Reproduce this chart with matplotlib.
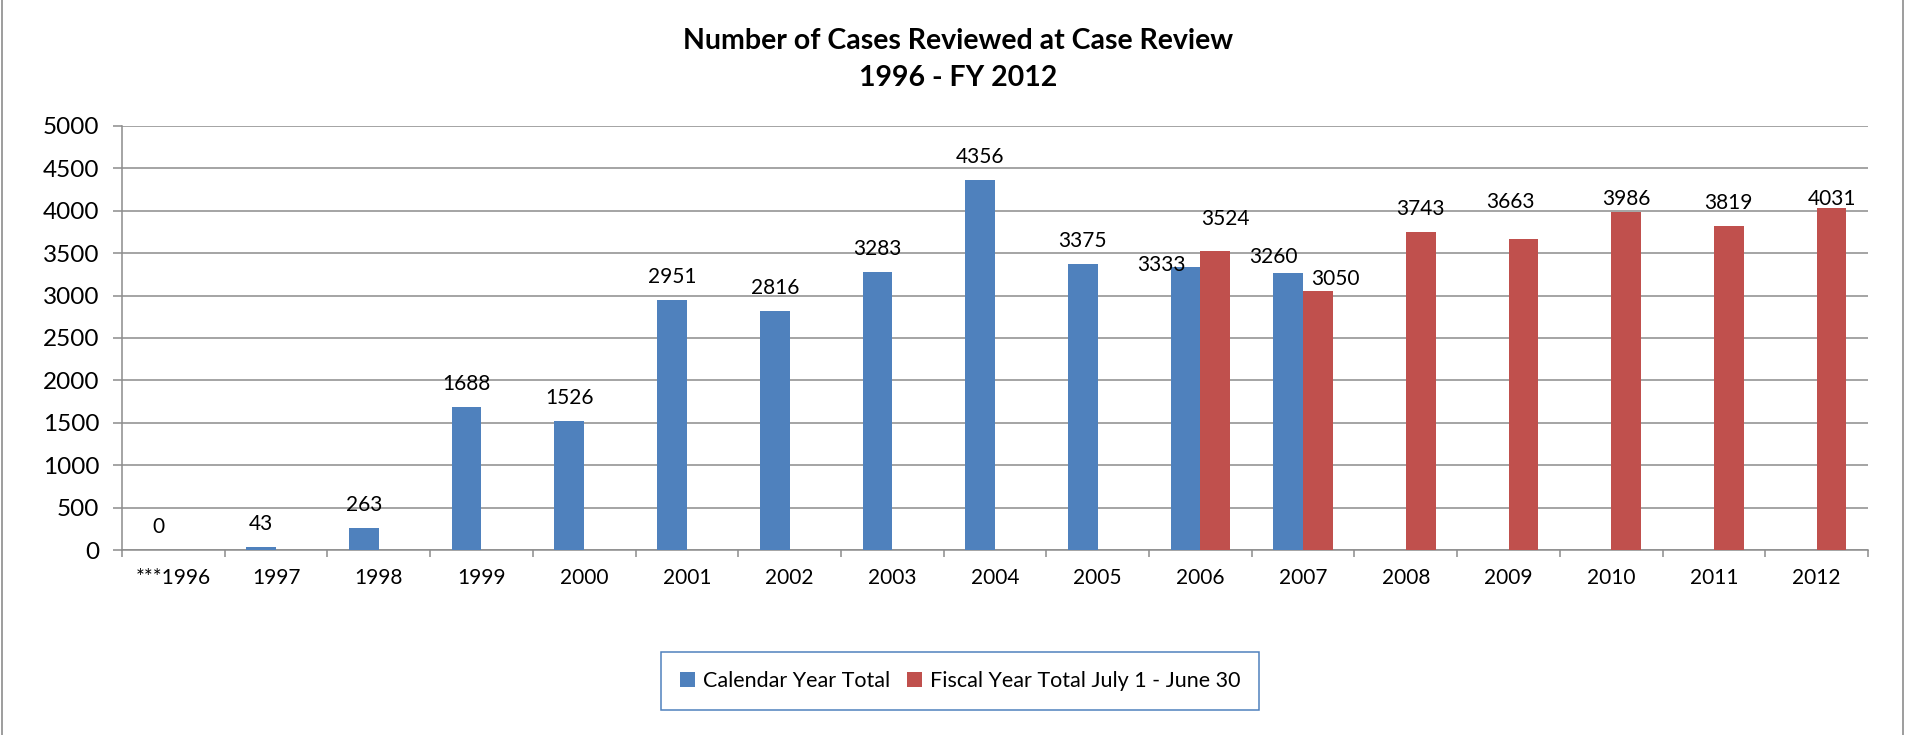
import numpy as np
import matplotlib
matplotlib.use('Agg')
import matplotlib.pyplot as plt
from matplotlib.patches import Patch
from matplotlib.lines import Line2D

# Data
years = ['***1996', '1997', '1998', '1999', '2000', '2001', '2002', '2003', '2004',
         '2005', '2006', '2007', '2008', '2009', '2010', '2011', '2012']
calendar_total = [0, 43, 263, 1688, 1526, 2951, 2816, 3283, 4356, 3375, 3333, 3260,
                  np.nan, np.nan, np.nan, np.nan, np.nan]
fiscal_total = [np.nan] * 10 + [3524, 3050, 3743, 3663, 3986, 3819, 4031]
series_names = ['Calendar Year Total', 'Fiscal Year Total July 1 - June 30']

BLUE = '#4F81BD'
RED = '#C0504D'
GRID = '#8C8C8C'

plt.rcParams['font.family'] = ['Lato', 'DejaVu Sans']

# a few data labels were nudged by hand in the original (pixels: dx, dy above bar top)
label_shift = {
    (0, 10): (-24.5, 4), (1, 10): (10, 34),
    (0, 11): (-15, 18), (1, 11): (17, 14),
    (1, 13): (-12.6, 38.6), (1, 14): (0, 14.3), (1, 16): (0, 10.6),
}

fig = plt.figure(figsize=(19.08, 7.35), dpi=100)
ax = fig.add_axes([122 / 1908, 1 - 550.3 / 735, 1746 / 1908, 424.6 / 735])

x = np.arange(len(years))
w = 0.29
ax.bar(x - w / 2, calendar_total, width=w, color=BLUE, zorder=3)
ax.bar(x + w / 2, fiscal_total, width=w, color=RED, zorder=3)

# value labels
for s, (vals, off) in enumerate([(calendar_total, -w / 2), (fiscal_total, w / 2)]):
    for i, v in enumerate(vals):
        if np.isnan(v):
            continue
        dx, dy = label_shift.get((s, i), (0, 24.5))
        ax.annotate(f'{int(v)}', (i + off, v), xytext=(dx * 0.72, (dy - 7.5) * 0.72),
                    textcoords='offset points', ha='center', va='baseline',
                    fontsize=15, color='black', zorder=4)

ax.set_xlim(-0.5, len(years) - 0.5)
ax.set_ylim(0, 5000)
ax.set_yticks(np.arange(0, 5001, 500))
ax.yaxis.grid(True, color=GRID, linewidth=1.1)
ax.set_axisbelow(True)

ax.set_xticks(x)
ax.set_xticklabels(years)
ax.set_xticks(np.arange(-0.5, len(years), 1), minor=True)
ax.tick_params(axis='x', which='major', length=0, pad=13, labelsize=15)
ax.tick_params(axis='x', which='minor', length=5, width=1.1, color=GRID)
ax.tick_params(axis='y', length=6.5, width=1.1, color=GRID, pad=10, labelsize=17.5)

for side in ['top', 'right']:
    ax.spines[side].set_visible(False)
for side in ['left', 'bottom']:
    ax.spines[side].set_color(GRID)
    ax.spines[side].set_linewidth(1.1)

# title
fig.text(0.502, 1 - 41 / 735, 'Number of Cases Reviewed at Case Review', ha='center', va='center',
         fontsize=20.5, fontweight='bold')
fig.text(0.502, 1 - 78 / 735, '1996 - FY 2012', ha='center', va='center',
         fontsize=20.5, fontweight='bold')

handles = [Patch(facecolor=BLUE), Patch(facecolor=RED)]
leg = fig.legend(handles, series_names, loc='center', bbox_to_anchor=(960 / 1908, 1 - 681 / 735),
                 ncol=2, frameon=True, fancybox=False, framealpha=1, fontsize=15.5,
                 handlelength=0.7, handleheight=0.7, handletextpad=0.35,
                 columnspacing=0.8, borderpad=0.9)
leg.get_frame().set_edgecolor(BLUE)
leg.get_frame().set_linewidth(1.1)

# chart area border (left and right edges visible)
fig.add_artist(Line2D([1.5 / 1908, 1.5 / 1908], [0, 1], transform=fig.transFigure, color=GRID, lw=1.2))
fig.add_artist(Line2D([1903 / 1908, 1903 / 1908], [0, 1], transform=fig.transFigure, color=GRID, lw=1.2))

fig.savefig('out.png', dpi=100)
